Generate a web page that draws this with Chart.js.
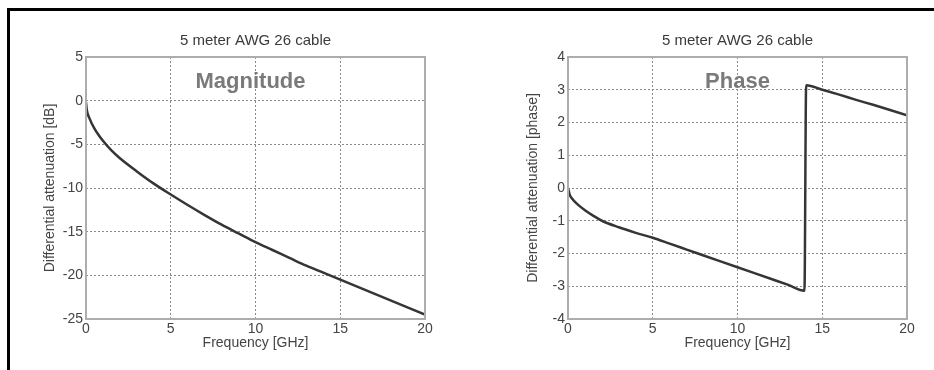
<!DOCTYPE html>
<html>
<head>
<meta charset="utf-8">
<script src="https://cdn.jsdelivr.net/npm/chart.js@4.4.1/dist/chart.umd.min.js"></script>
<style>
  body { margin: 0; background: #fff; }
  .frame { position: absolute; left: 7px; top: 8px; width: 927px; height: 362px; border-top: 3px solid #000; border-left: 3px solid #000; box-sizing: border-box; }
  .panel { position: absolute; top: 0; width: 467px; height: 370px; }
</style>
</head>
<body>
<div class="frame"></div>
<div class="panel" style="left:0"><canvas id="magChart" width="467" height="370"></canvas></div>
<div class="panel" style="left:467px"><canvas id="phaseChart" width="467" height="370"></canvas></div>
<script>
const chartTitle = "5 meter AWG 26 cable";
const xTitle = "Frequency [GHz]";
const xTicks = [0, 5, 10, 15, 20];

// magnitude panel
const magFreq = [0, 0.05, 0.2, 0.5, 1, 1.5, 2, 3, 4, 5, 6, 7, 8, 9, 10, 11, 12, 13, 14, 15, 16, 17, 18, 19, 20];
const magDb = [-0.2, -1.1, -2.0, -3.2, -4.6, -5.7, -6.6, -8.1, -9.5, -10.75, -11.95, -13.1, -14.2, -15.2, -16.2,
  -17.1, -18.0, -18.9, -19.7, -20.5, -21.3, -22.1, -22.9, -23.7, -24.5];
const magTicks = [5, 0, -5, -10, -15, -20, -25];

// phase panel
const phaseFreq = [0, 0.1, 0.25, 0.5, 1, 1.5, 2, 3, 4, 5, 6, 7, 8, 9, 10, 11, 12, 13, 13.95, 14.05, 15, 16, 17, 18, 19, 20];
const phaseVal = [0, -0.2, -0.33, -0.47, -0.68, -0.85, -1.0, -1.2, -1.37, -1.52, -1.7, -1.88, -2.06, -2.24, -2.42,
  -2.6, -2.78, -2.96, -3.14, 3.14, 3.0, 2.85, 2.69, 2.54, 2.38, 2.22];
const phaseTicks = [4, 3, 2, 1, 0, -1, -2, -3, -4];

const FONT = "'Liberation Sans', Arial, sans-serif";

// box around the plot + big grey label inside it + title on top
const boxPlugin = {
  id: "box",
  afterDraw(chart, args, opts) {
    const { ctx, chartArea: a } = chart;
    ctx.save();
    ctx.strokeStyle = "#adadad";
    ctx.lineWidth = 2;
    ctx.strokeRect(a.left, a.top, a.right - a.left, a.bottom - a.top);
    ctx.fillStyle = "#7a7a7a";
    ctx.font = "bold 22px " + FONT;
    ctx.textAlign = "center";
    ctx.textBaseline = "middle";
    ctx.fillText(opts.label, (a.left + a.right) / 2 + opts.labelDx, a.top + 25);
    ctx.fillStyle = "#3a3a3a";
    ctx.font = "15px " + FONT;
    ctx.fillText(chartTitle, (a.left + a.right) / 2, a.top - 16);
    ctx.restore();
  }
};

function makeChart(id, xs, ys, yTicks, yTitle, label, labelDx, padLeft, yWidth, padRight) {
  const ctx = document.getElementById(id).getContext("2d");
  return new Chart(ctx, {
    type: "line",
    data: {
      datasets: [{
        data: xs.map((x, i) => ({ x: x, y: ys[i] })),
        borderColor: "#353535",
        borderWidth: 2.5,
        pointRadius: 0,
        fill: false,
        cubicInterpolationMode: "monotone"
      }]
    },
    plugins: [boxPlugin],
    options: {
      responsive: false,
      animation: false,
      layout: { padding: { left: padLeft, right: padRight, top: 57, bottom: 18 } },
      plugins: {
        legend: { display: false },
        tooltip: { enabled: false },
        box: { label: label, labelDx: labelDx }
      },
      scales: {
        x: {
          type: "linear",
          min: 0,
          max: 20,
          afterBuildTicks: s => { s.ticks = xTicks.map(v => ({ value: v })); },
          afterFit: s => { s.height = 33; },
          ticks: { color: "#444", font: { family: FONT, size: 14 }, padding: 2, maxRotation: 0 },
          grid: { color: "#8a8a8a", lineWidth: 1, drawTicks: false },
          border: { display: false, dash: [2, 2] },
          title: { display: true, text: xTitle, color: "#444", font: { family: FONT, size: 14 }, padding: 0 }
        },
        y: {
          min: yTicks[yTicks.length - 1],
          max: yTicks[0],
          afterBuildTicks: s => { s.ticks = yTicks.slice().reverse().map(v => ({ value: v })); },
          afterFit: s => { s.width = yWidth; },
          ticks: { color: "#444", font: { family: FONT, size: 14 }, padding: 3 },
          grid: { color: "#8a8a8a", lineWidth: 1, drawTicks: false },
          border: { display: false, dash: [2, 2] },
          title: { display: true, text: yTitle, color: "#444", font: { family: FONT, size: 14 }, padding: 2 }
        }
      }
    }
  });
}

makeChart("magChart", magFreq, magDb, magTicks, "Differential attenuation [dB]", "Magnitude", -5, 40, 46, 42);
makeChart("phaseChart", phaseFreq, phaseVal, phaseTicks, "Differential attenuation [phase]", "Phase", 0, 56, 45, 27);
</script>
</body>
</html>
